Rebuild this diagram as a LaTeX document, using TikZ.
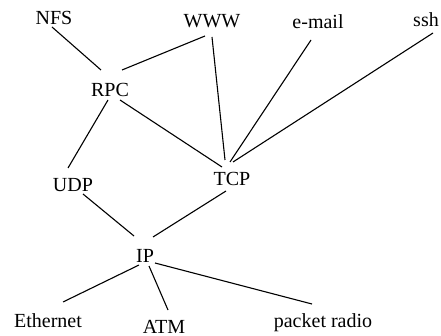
\documentclass[tikz,border=0pt]{standalone}
\usepackage{fontspec}
\setmainfont{Liberation Serif}
\usepackage{tikz}

\tikzset{proto/.style={inner sep=0pt, anchor=base, text=black, font=\fontsize{20}{24}\selectfont}}
\tikzset{link/.style={draw=black, line width=1.1pt}}

\begin{document}
\begin{tikzpicture}[x=1pt, y=-1pt]

  \useasboundingbox (0,0) rectangle (441,336);

  % Applications
  \node (nfs) [proto] at (54,25) {NFS};
  \node (www) [proto] at (212,28) {WWW};
  \node (mail) [proto] at (318,29) {e-mail};
  \node (ssh) [proto] at (426,27) {ssh};

  % Transport
  \node (rpc) [proto] at (110,97) {RPC};
  \node (udp) [proto] at (73,192) {UDP};
  \node (tcp) [proto] at (232,186) {TCP};

  % Network
  \node (ip) [proto] at (145,262) {IP};

  % Link layer
  \node (eth) [proto] at (48,327) {Ethernet};
  \node (atm) [proto] at (164,333) {ATM};
  \node (radio) [proto] at (323,327) {packet radio};

  % Upper connections
  \draw[link] ([shift={(-2,2)}]nfs.base) -- ([shift={(-9,-27)}]rpc.base);
  \draw[link] ([shift={(-7,8)}]www.base) -- ([shift={(12,-27)}]rpc.base);
  \draw[link] ([shift={(0,9)}]www.base) -- ([shift={(-7,-26)}]tcp.base);
  \draw[link] ([shift={(-7,11)}]mail.base) -- ([shift={(-2,-24)}]tcp.base);
  \draw[link] ([shift={(7,6)}]ssh.base) -- ([shift={(1,-24)}]tcp.base);

  % Middle connections
  \draw[link] ([shift={(-2,3)}]rpc.base) -- ([shift={(-5,-24)}]udp.base);
  \draw[link] ([shift={(10,3)}]rpc.base) -- ([shift={(-10,-19)}]tcp.base);
  \draw[link] ([shift={(10,2)}]udp.base) -- ([shift={(-11,-26)}]ip.base);
  \draw[link] ([shift={(-6,5)}]tcp.base) -- ([shift={(8,-25)}]ip.base);

  % Lower connections
  \draw[link] ([shift={(-6,3)}]ip.base) -- ([shift={(15,-25)}]eth.base);
  \draw[link] ([shift={(4,4)}]ip.base) -- ([shift={(4,-23)}]atm.base);
  \draw[link] ([shift={(10,1)}]ip.base) -- ([shift={(-11,-23)}]radio.base);

\end{tikzpicture}
\end{document}
